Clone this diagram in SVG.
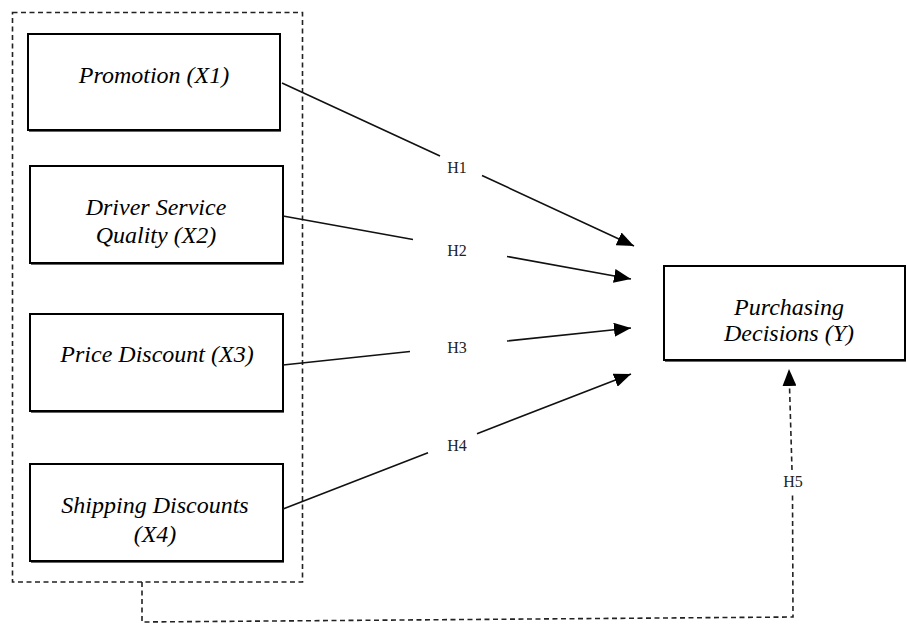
<svg xmlns="http://www.w3.org/2000/svg" width="907" height="626" viewBox="0 0 907 626">
<style>
.box{fill:#fff;stroke:#000;stroke-width:2}
.sh{fill:#666}
.t{font-family:'Liberation Serif','DejaVu Serif',serif;font-style:italic;font-size:24px;fill:#000;text-anchor:middle}
.lbl{font-family:'Liberation Serif','DejaVu Serif',serif;font-size:16px;fill:#222;text-anchor:middle}
.conn{fill:none;stroke:#111;stroke-width:1.6}
.dash{fill:none;stroke:#222;stroke-width:1.6;stroke-dasharray:5 3.5}
</style>
<defs>
<marker id="arr" markerUnits="userSpaceOnUse" markerWidth="18" markerHeight="14" refX="17" refY="7" orient="auto">
<path d="M0,0 L17,7 L0,14 z" fill="#000"/>
</marker>
</defs>
<rect id="container" class="dash" x="12.5" y="12.5" width="290" height="569.5"/>
<g id="x1">
<rect class="sh" x="29" y="36" width="252" height="96"/>
<rect class="box" x="28" y="34" width="252" height="96"/>
<text class="t" x="154" y="83">Promotion (X1)</text>
</g>
<g id="x2">
<rect class="sh" x="31" y="168" width="253" height="97"/>
<rect class="box" x="30" y="166" width="253" height="97"/>
<text class="t" x="156" y="215">Driver Service</text>
<text class="t" x="156" y="243">Quality (X2)</text>
</g>
<g id="x3">
<rect class="sh" x="31" y="316" width="253" height="97"/>
<rect class="box" x="30" y="314" width="253" height="97"/>
<text class="t" x="157" y="362">Price Discount (X3)</text>
</g>
<g id="x4">
<rect class="sh" x="31" y="466" width="253" height="97"/>
<rect class="box" x="30" y="464" width="253" height="97"/>
<text class="t" x="155" y="513">Shipping Discounts</text>
<text class="t" x="155" y="542">(X4)</text>
</g>
<g id="y">
<rect class="sh" x="665" y="268" width="241" height="94"/>
<rect class="box" x="664" y="266" width="241" height="94"/>
<text class="t" x="789" y="315">Purchasing</text>
<text class="t" x="789" y="341">Decisions (Y)</text>
</g>
<g id="connectors">
<path class="conn" d="M282,83 L440,156 M482,175.5 L634,246" marker-end="url(#arr)"/>
<path class="conn" d="M283,216 L413,239.5 M507,256.5 L631,279" marker-end="url(#arr)"/>
<path class="conn" d="M283,365 L410,351.5 M507,341 L631,328" marker-end="url(#arr)"/>
<path class="conn" d="M283,509 L428,452.7 M477,433.7 L631,374" marker-end="url(#arr)"/>
<path class="dash" d="M142,582 L142,622 L793,617 L792.5,492 M792,470 L789,369" marker-end="url(#arr)"/>
<text class="lbl" x="457" y="173">H1</text>
<text class="lbl" x="457" y="256">H2</text>
<text class="lbl" x="457" y="353">H3</text>
<text class="lbl" x="457" y="451">H4</text>
<text class="lbl" x="793" y="487">H5</text>
</g>
</svg>
